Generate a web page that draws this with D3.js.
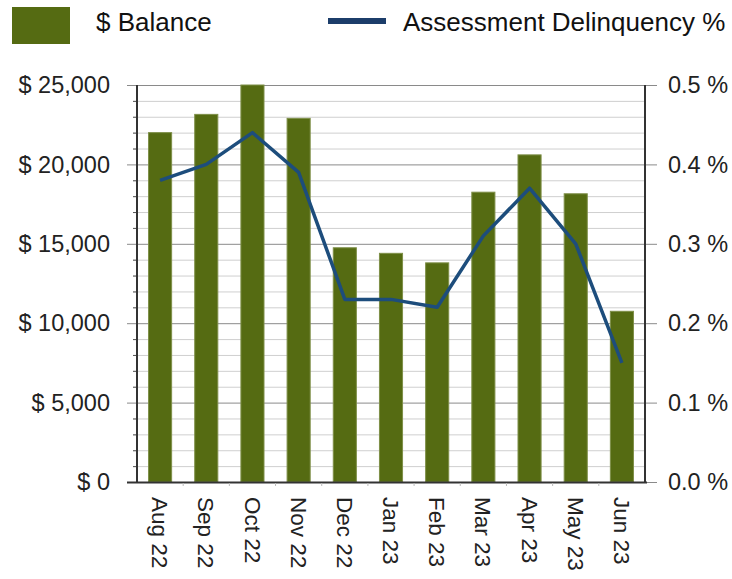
<!DOCTYPE html>
<html>
<head>
<meta charset="utf-8">
<script src="https://cdn.jsdelivr.net/npm/d3@7"></script>
<style>
  html, body { margin: 0; padding: 0; background: #fff; }
  svg { display: block; font-family: Arial, 'Liberation Sans', sans-serif; }
</style>
</head>
<body>
<div id="chart"></div>
<script>
const months = ['Aug 22', 'Sep 22', 'Oct 22', 'Nov 22', 'Dec 22', 'Jan 23', 'Feb 23', 'Mar 23', 'Apr 23', 'May 23', 'Jun 23'];
const balance = [22000, 23150, 25000, 22900, 14750, 14400, 13800, 18250, 20600, 18150, 10750];
const delinquency = [0.38, 0.40, 0.44, 0.39, 0.23, 0.23, 0.22, 0.31, 0.37, 0.30, 0.15];
const balanceTicks = [0, 5000, 10000, 15000, 20000, 25000];
const pctTicks = [0, 0.1, 0.2, 0.3, 0.4, 0.5];

const width = 732;
const height = 579;
const margin = { top: 85, right: 87, bottom: 97, left: 137 };
const barColor = '#556b12';
const lineColor = '#1d4d7c';

const svg = d3.select('#chart').append('svg')
  .attr('width', width)
  .attr('height', height);

const x = d3.scaleBand()
  .domain(months)
  .range([margin.left, width - margin.right])
  .paddingInner(0.5)
  .paddingOuter(0.25);

const yLeft = d3.scaleLinear().domain([0, 25000]).range([height - margin.bottom, margin.top]);
const yRight = d3.scaleLinear().domain([0, 0.5]).range([height - margin.bottom, margin.top]);

const x0 = margin.left, x1 = width - margin.right;
const minorVals = d3.range(0, 25001, 1000).filter(v => v % 5000 !== 0);

// Minor gridlines every 1000
svg.append('g')
  .selectAll('line')
  .data(minorVals)
  .enter()
  .append('line')
  .attr('x1', x0 - 4).attr('x2', x1)
  .attr('y1', d => yLeft(d) + 0.5).attr('y2', d => yLeft(d) + 0.5)
  .attr('stroke', '#cfcfcf');

// minor tick marks on the left axis
svg.append('g')
  .selectAll('line')
  .data(minorVals)
  .enter()
  .append('line')
  .attr('x1', x0 - 4).attr('x2', x0)
  .attr('y1', d => yLeft(d) + 0.5).attr('y2', d => yLeft(d) + 0.5)
  .attr('stroke', '#555');

// Major gridlines every 5000
svg.append('g')
  .selectAll('line')
  .data(balanceTicks)
  .enter()
  .append('line')
  .attr('x1', x0 - 10).attr('x2', x1 + 12)
  .attr('y1', d => yLeft(d) + 0.5).attr('y2', d => yLeft(d) + 0.5)
  .attr('stroke', '#8a8a8a');

// Bars
svg.append('g')
  .selectAll('rect')
  .data(balance)
  .enter()
  .append('rect')
  .attr('x', (d, i) => x(months[i]))
  .attr('y', d => yLeft(d))
  .attr('width', x.bandwidth())
  .attr('height', d => yLeft(0) - yLeft(d))
  .attr('fill', barColor)
  .attr('stroke', '#7e8f48')
  .attr('stroke-width', 1);

// Axis lines
svg.append('line')
  .attr('x1', x0).attr('x2', x0)
  .attr('y1', margin.top).attr('y2', yLeft(0) + 1)
  .attr('stroke', '#333').attr('stroke-width', 2);
svg.append('line')
  .attr('x1', x1).attr('x2', x1)
  .attr('y1', margin.top).attr('y2', yLeft(0) + 1)
  .attr('stroke', '#333').attr('stroke-width', 2);
svg.append('line')
  .attr('x1', x0 - 10).attr('x2', x1 + 2)
  .attr('y1', yLeft(0) + 0.5).attr('y2', yLeft(0) + 0.5)
  .attr('stroke', '#333').attr('stroke-width', 2);

// small ticks under the x axis at band edges
svg.append('g')
  .selectAll('line')
  .data(months.slice(1))
  .enter()
  .append('line')
  .attr('x1', d => x(d) - x.bandwidth() / 2)
  .attr('x2', d => x(d) - x.bandwidth() / 2)
  .attr('y1', yLeft(0) + 1).attr('y2', yLeft(0) + 4)
  .attr('stroke', '#bbb');

// Delinquency line
const line = d3.line()
  .x((d, i) => x(months[i]) + x.bandwidth() / 2)
  .y(d => yRight(d));

svg.append('path')
  .datum(delinquency)
  .attr('d', line)
  .attr('fill', 'none')
  .attr('stroke', lineColor)
  .attr('stroke-width', 3.5)
  .attr('stroke-linejoin', 'round');

// Left tick labels
svg.append('g')
  .selectAll('text')
  .data(balanceTicks)
  .enter()
  .append('text')
  .attr('x', x0 - 27)
  .attr('y', d => yLeft(d))
  .attr('dy', '0.35em')
  .attr('text-anchor', 'end')
  .style('font-size', '23.5px')
  .attr('fill', '#222')
  .text(d => '$ ' + d3.format(',')(d));

// Right tick labels
svg.append('g')
  .selectAll('text')
  .data(pctTicks)
  .enter()
  .append('text')
  .attr('x', x1 + 23)
  .attr('y', d => yRight(d))
  .attr('dy', '0.35em')
  .attr('text-anchor', 'start')
  .style('font-size', '23.5px')
  .attr('fill', '#222')
  .text(d => d.toFixed(1) + ' %');

// Month labels, rotated
svg.append('g')
  .selectAll('text')
  .data(months)
  .enter()
  .append('text')
  .attr('transform', d => `translate(${x(d) + x.bandwidth() / 2},${yLeft(0) + 15}) rotate(90)`)
  .attr('dy', '0.35em')
  .attr('text-anchor', 'start')
  .style('font-size', '22.5px')
  .attr('fill', '#222')
  .text(d => d);

// Legend
const legend = svg.append('g');
legend.append('rect')
  .attr('x', 12).attr('y', 7)
  .attr('width', 58).attr('height', 37)
  .attr('fill', barColor);
legend.append('text')
  .attr('x', 96).attr('y', 31)
  .style('font-size', '26px')
  .attr('fill', '#111')
  .text('$ Balance');
legend.append('rect')
  .attr('x', 328).attr('y', 18)
  .attr('width', 58).attr('height', 6)
  .attr('fill', '#1c3d6a');
legend.append('text')
  .attr('x', 403).attr('y', 31)
  .style('font-size', '26px')
  .attr('fill', '#111')
  .text('Assessment Delinquency %');
</script>
</body>
</html>
